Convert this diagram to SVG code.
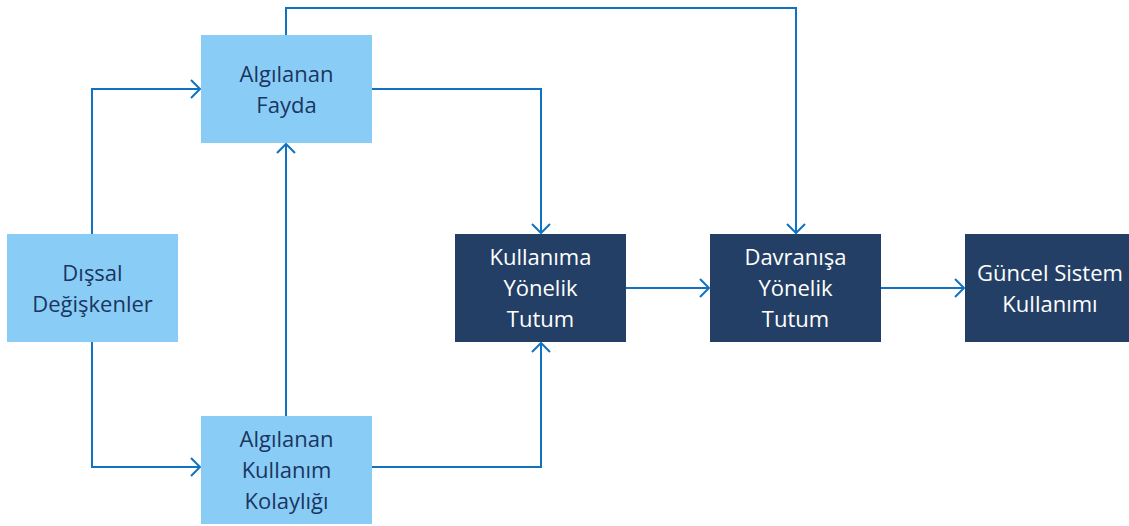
<svg xmlns="http://www.w3.org/2000/svg" width="1129" height="526" viewBox="0 0 1129 526">
  <style>
    .light { fill: #89CDF7; }
    .dark { fill: #243F66; }
    .lbl { font-family: "Open Sans", "Liberation Sans", sans-serif; font-size: 22px; text-anchor: middle; }
    .lbl-light { fill: #1B3560; }
    .lbl-dark { fill: #FFFFFF; }
    .wire { fill: none; stroke: #1272C2; stroke-width: 2; marker-end: url(#chev); }
  </style>
  <defs>
    <marker id="chev" markerUnits="userSpaceOnUse" markerWidth="14" markerHeight="22" refX="11" refY="10" orient="auto" overflow="visible">
      <path d="M2,1 L11,10 L2,19" fill="none" stroke="#1272C2" stroke-width="2"/>
    </marker>
  </defs>
  <rect width="1129" height="526" fill="#FFFFFF"/>

  <g id="connectors">
    <path class="wire" d="M286,35 V8 H796 V233"/>
    <path class="wire" d="M372,89 H541 V233"/>
    <path class="wire" d="M92,234 V89 H200"/>
    <path class="wire" d="M92,342 V467 H200"/>
    <path class="wire" d="M286,416 V144"/>
    <path class="wire" d="M372,467 H541 V343"/>
    <path class="wire" d="M626,288 H709"/>
    <path class="wire" d="M881,288 H964"/>
  </g>

  <g id="algilanan-fayda">
    <rect class="light" x="201" y="35" width="171" height="108"/>
    <text class="lbl lbl-light" x="286.5" y="82">Algılanan</text>
    <text class="lbl lbl-light" x="286.5" y="113">Fayda</text>
  </g>
  <g id="dissal-degiskenler">
    <rect class="light" x="7" y="234" width="171" height="108"/>
    <text class="lbl lbl-light" x="92.5" y="281">Dışsal</text>
    <text class="lbl lbl-light" x="92.5" y="312">Değişkenler</text>
  </g>
  <g id="algilanan-kullanim-kolayligi">
    <rect class="light" x="201" y="416" width="171" height="108"/>
    <text class="lbl lbl-light" x="286.5" y="447">Algılanan</text>
    <text class="lbl lbl-light" x="286.5" y="478">Kullanım</text>
    <text class="lbl lbl-light" x="286.5" y="509">Kolaylığı</text>
  </g>
  <g id="kullanima-yonelik-tutum">
    <rect class="dark" x="455" y="234" width="171" height="108"/>
    <text class="lbl lbl-dark" x="540.5" y="265">Kullanıma</text>
    <text class="lbl lbl-dark" x="540.5" y="296">Yönelik</text>
    <text class="lbl lbl-dark" x="540.5" y="327">Tutum</text>
  </g>
  <g id="davranisa-yonelik-tutum">
    <rect class="dark" x="710" y="234" width="171" height="108"/>
    <text class="lbl lbl-dark" x="795.5" y="265">Davranışa</text>
    <text class="lbl lbl-dark" x="795.5" y="296">Yönelik</text>
    <text class="lbl lbl-dark" x="795.5" y="327">Tutum</text>
  </g>
  <g id="guncel-sistem-kullanimi">
    <rect class="dark" x="965" y="234" width="164" height="108"/>
    <text class="lbl lbl-dark" x="1050" y="281">Güncel Sistem</text>
    <text class="lbl lbl-dark" x="1050" y="312">Kullanımı</text>
  </g>
</svg>
